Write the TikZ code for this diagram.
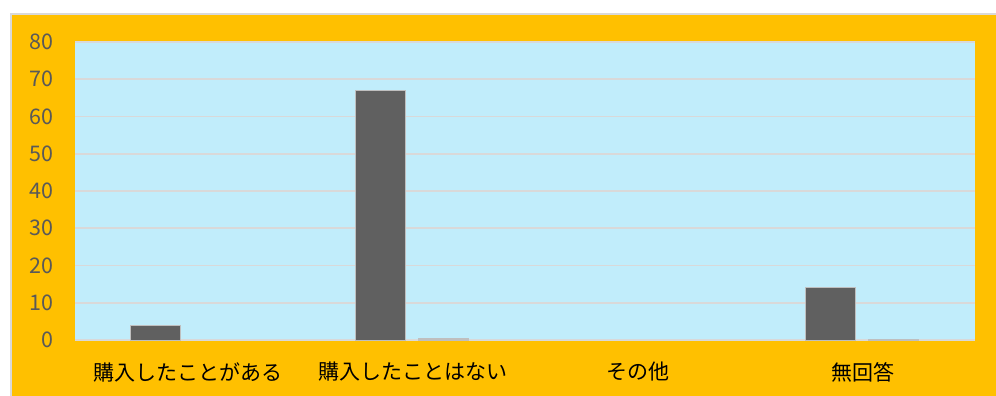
\documentclass[tikz,border=0pt]{standalone}
\usepackage{fontspec}
\setmainfont{Carlito}
\newfontfamily\jpfont{Noto Sans CJK JP}
\definecolor{chartorange}{HTML}{FFC000}
\definecolor{plotblue}{HTML}{C1EDFB}
\definecolor{gridgray}{HTML}{D9D9D9}
\definecolor{bardark}{HTML}{606060}
\definecolor{barlight}{HTML}{BFBFBF}
\definecolor{ticktext}{HTML}{595959}

\tikzset{
  ticklabel/.style={anchor=east, text=ticktext, font=\jpfont\fontsize{21.5}{21.5}\selectfont, inner sep=0pt},
  catlabel/.style={text=black, font=\jpfont\fontsize{21}{21}\selectfont, inner sep=0pt},
  darkbar/.style={fill=bardark, draw=barlight, line width=0.8pt},
  lightbar/.style={fill=barlight, draw=barlight, line width=0.8pt},
}

\begin{document}
\begin{tikzpicture}[x=1pt,y=-1pt]
\useasboundingbox (0,0) rectangle (996,396);
\fill[white] (0,0) rectangle (996,396);
% chart area
\fill[chartorange, draw=gridgray, line width=2pt] (11,14) rectangle (1002,402);
% plot area
\fill[plotblue] (75,42) rectangle (975,340);
\foreach \v in {0,...,8}{
    \draw[gridgray, line width=1.6pt] (75,340-\v*37.25) -- (975,340-\v*37.25);
    \node[ticklabel] (tick\v) at (54,340-\v*37.25) {\the\numexpr\v*10\relax};
}
% bars
\foreach \i/\d/\l/\name in {0/4/0/購入したことがある, 1/67/0.5/購入したことはない, 2/0/0/その他, 3/14/0.2/無回答}{
    \ifdim \d pt>0pt
      \fill[darkbar] (75+225*\i+55,340) rectangle (75+225*\i+105,340-\d*3.725);
    \fi
    \ifdim \l pt>0pt
      \fill[lightbar] (75+225*\i+118,340) rectangle (75+225*\i+168,340-\l*3.725);
    \fi
    \node[catlabel] (cat\i) at (75+225*\i+112.5,372) {\name};
}
\end{tikzpicture}
\end{document}
